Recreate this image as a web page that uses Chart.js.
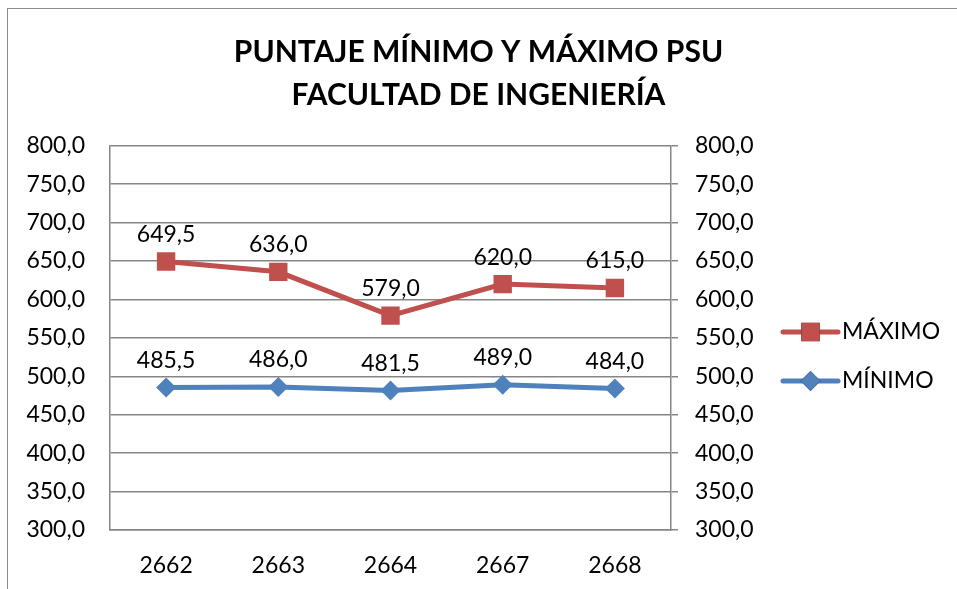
<!DOCTYPE html>
<html>
<head>
<meta charset="utf-8">
<script src="https://cdn.jsdelivr.net/npm/chart.js@4"></script>
<style>
  body { margin: 0; background: #fff; }
  #marco { position: absolute; left: 7px; top: 8px; width: 960px; height: 590px;
           border-left: 1px solid #8c8c8c; border-top: 1px solid #8c8c8c; }
  #caja { position: absolute; left: 0; top: 0; width: 957px; height: 589px; }
</style>
</head>
<body>
<div id="marco"></div>
<div id="caja"><canvas id="grafico"></canvas></div>
<script>
// Datos del gráfico
const carreras = ['2662', '2663', '2664', '2667', '2668'];
const maximo = [649.5, 636.0, 579.0, 620.0, 615.0];
const minimo = [485.5, 486.0, 481.5, 489.0, 484.0];
const titulo = ['PUNTAJE MÍNIMO Y MÁXIMO PSU', 'FACULTAD DE INGENIERÍA'];

const fuente = 'Lato, "Open Sans", sans-serif';
const gris = '#868686';

// formato con coma decimal
function fmt(v) {
    return v.toFixed(1).replace('.', ',');
}

// Etiquetas de valor encima de cada punto
const etiquetas = {
    id: 'etiquetas',
    afterDatasetsDraw(chart) {
        const ctx = chart.ctx;
        ctx.save();
        ctx.font = '23px ' + fuente;
        ctx.fillStyle = '#000';
        ctx.textAlign = 'center';
        ctx.textBaseline = 'middle';
        chart.data.datasets.forEach((ds, i) => {
            chart.getDatasetMeta(i).data.forEach((pt, j) => {
                ctx.fillText(fmt(ds.data[j]), pt.x, pt.y - 27);
            });
        });
        ctx.restore();
    }
};

// Leyenda a la derecha (línea con marcador)
const leyenda = {
    id: 'leyenda',
    afterDraw(chart) {
        const ctx = chart.ctx;
        const x0 = 783, x1 = 838;
        const filas = [332, 381];
        ctx.save();
        chart.data.datasets.forEach((ds, i) => {
            const y = filas[i];
            ctx.strokeStyle = ds.borderColor;
            ctx.lineWidth = 5;
            ctx.lineCap = 'round';
            ctx.beginPath();
            ctx.moveTo(x0, y);
            ctx.lineTo(x1, y);
            ctx.stroke();
            Chart.helpers.drawPoint(ctx, {
                pointStyle: ds.pointStyle,
                radius: ds.pointRadius,
                rotation: 0,
                borderWidth: 0
            }, (x0 + x1) / 2, y);
            ctx.fillStyle = ds.backgroundColor;
            ctx.fill();
            ctx.fillStyle = '#000';
            ctx.font = '23px ' + fuente;
            ctx.textAlign = 'left';
            ctx.textBaseline = 'middle';
            ctx.fillText(ds.label, x1 + 4, y);
        });
        ctx.restore();
    }
};

const ctx = document.getElementById('grafico').getContext('2d');
const grafico = new Chart(ctx, {
    type: 'line',
    data: {
        labels: carreras,
        datasets: [{
            label: 'MÁXIMO',
            data: maximo,
            borderColor: '#C0504D',
            backgroundColor: '#C0504D',
            borderWidth: 5,
            pointStyle: 'rect',
            pointRadius: 13,
            pointBorderWidth: 0,
            yAxisID: 'y'
        }, {
            label: 'MÍNIMO',
            data: minimo,
            borderColor: '#4F81BD',
            backgroundColor: '#4F81BD',
            borderWidth: 5,
            pointStyle: 'rectRot',
            pointRadius: 10,
            pointBorderWidth: 0,
            yAxisID: 'y'
        }]
    },
    options: {
        responsive: true,
        maintainAspectRatio: false,
        animation: false,
        layout: { padding: 0 },
        plugins: {
            legend: { display: false },
            tooltip: { enabled: false },
            title: {
                display: true,
                text: titulo,
                color: '#000',
                font: { family: fuente, size: 30, weight: 'bold', lineHeight: 1.43 },
                padding: { top: 31, bottom: 29 }
            }
        },
        scales: {
            x: {
                offset: true,
                grid: { display: false },
                border: { display: true, color: gris, width: 1.5 },
                ticks: { color: '#000', font: { family: fuente, size: 23 }, padding: 14 },
                afterFit(s) { s.height = 59; }
            },
            y: {
                position: 'left',
                min: 300,
                max: 800,
                ticks: {
                    stepSize: 50,
                    color: '#000',
                    font: { family: fuente, size: 23 },
                    padding: 25,
                    callback: v => fmt(v)
                },
                grid: { color: gris, lineWidth: 1.5, drawTicks: false },
                border: { display: true, color: gris, width: 1.5 },
                afterFit(s) { s.width = 110; }
            },
            y2: {
                position: 'right',
                min: 300,
                max: 800,
                ticks: {
                    stepSize: 50,
                    color: '#000',
                    font: { family: fuente, size: 23 },
                    padding: 17,
                    callback: v => fmt(v)
                },
                grid: { color: gris, lineWidth: 1.5, drawOnChartArea: false, drawTicks: true, tickLength: 7 },
                border: { display: true, color: gris, width: 1.5 },
                afterFit(s) { s.width = 286; }
            }
        }
    },
    plugins: [etiquetas, leyenda]
});
</script>
</body>
</html>
